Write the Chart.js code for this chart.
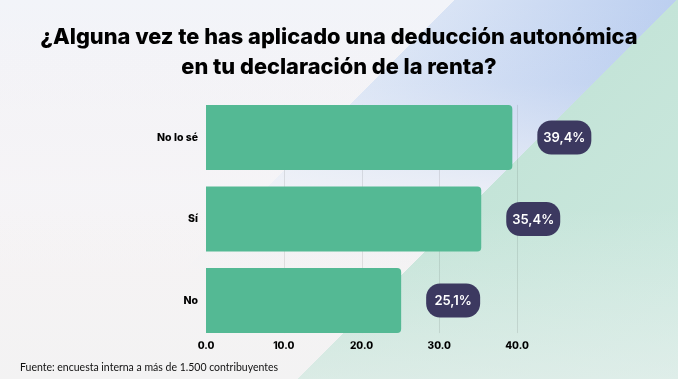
<!DOCTYPE html>
<html>
<head>
<meta charset="utf-8">
<script src="https://cdn.jsdelivr.net/npm/chart.js@4.4.1/dist/chart.umd.min.js"></script>
<style>
  html, body { margin: 0; padding: 0; }
  #wrap {
    position: relative; width: 678px; height: 379px; overflow: hidden;
    background:
      linear-gradient(to bottom, rgba(240,242,242,0) 0%, rgba(240,242,242,0) 55%, rgba(240,242,242,0.5) 100%),
      linear-gradient(135deg, rgba(0,0,0,0) 64%, #c4e4d8 64%, #cde9e0 100%),
      linear-gradient(to bottom, rgba(245,245,248,0) 0%, rgba(245,245,248,0.15) 22%, rgba(245,245,248,0.8) 50%, rgba(246,243,244,1) 72%),
      linear-gradient(135deg, rgba(0,0,0,0) 43%, #d8e3f5 43%, #bccff0 64%),
      linear-gradient(to bottom, #f2f4f9 0%, #f9efee 100%);
  }
  canvas { position: absolute; left: 0; top: 0; }
  #title {
    position: absolute; left: 0; top: 21px; width: 678px; text-align: center;
    font: 800 21.8px/30px Inter, sans-serif; color: #000;
  }
  #note {
    position: absolute; left: 20px; top: 361px;
    font: 400 10.5px Lato, sans-serif; color: #111;
  }
</style>
</head>
<body>
<div id="wrap">
  <canvas id="c" width="678" height="379"></canvas>
  <div id="title"></div>
  <div id="note">Fuente: encuesta interna a más de 1.500 contribuyentes</div>
</div>
<script>
const categories = ["No lo sé", "Sí", "No"];
const values = [39.4, 35.4, 25.1];
const xTicks = [0, 10, 20, 30, 40];
const titleLines = ["¿Alguna vez te has aplicado una deducción autonómica", "en tu declaración de la renta?"];

document.getElementById('title').innerHTML = titleLines.join('<br>');

const gridPlugin = {
  id: 'clippedGrid',
  beforeDatasetsDraw(chart) {
    const ctx = chart.ctx;
    const bars = chart.getDatasetMeta(0).data;
    const top = bars[0].y - bars[0].height / 2;
    const bottom = bars[bars.length - 1].y + bars[bars.length - 1].height / 2;
    const xs = chart.scales.x;
    ctx.save();
    ctx.strokeStyle = 'rgba(0,0,0,0.09)';
    ctx.lineWidth = 1;
    xTicks.slice(1).forEach(v => {
      const px = Math.round(xs.getPixelForValue(v)) + 0.5;
      ctx.beginPath();
      ctx.moveTo(px, top);
      ctx.lineTo(px, bottom);
      ctx.stroke();
    });
    ctx.restore();
  }
};

const badgePlugin = {
  id: 'badges',
  afterDatasetsDraw(chart) {
    const ctx = chart.ctx;
    chart.getDatasetMeta(0).data.forEach((bar, i) => {
      const w = 54, h = 34, r = 14;
      const x = bar.x + 25, y = bar.y - h / 2;
      ctx.save();
      ctx.fillStyle = '#3c3960';
      ctx.beginPath();
      ctx.roundRect(x, y, w, h, r);
      ctx.fill();
      ctx.fillStyle = '#ffffff';
      ctx.font = '600 13px Inter, sans-serif';
      ctx.textAlign = 'center';
      ctx.textBaseline = 'middle';
      ctx.fillText(values[i].toFixed(1).replace('.', ',') + '%', x + w / 2, bar.y + 1);
      ctx.restore();
    });
  }
};

new Chart(document.getElementById('c'), {
  type: 'bar',
  data: {
    labels: categories,
    datasets: [{
      data: values,
      backgroundColor: '#54b994',
      borderRadius: { topRight: 4, bottomRight: 4, topLeft: 0, bottomLeft: 0 },
      borderSkipped: 'start',
      barPercentage: 0.8,
      categoryPercentage: 1
    }]
  },
  options: {
    indexAxis: 'y',
    responsive: false,
    animation: false,
    layout: { padding: { left: 0, right: 161, top: 96.75, bottom: 17.75 } },
    plugins: {
      legend: { display: false },
      tooltip: { enabled: false },
      title: { display: false }
    },
    scales: {
      x: {
        min: 0, max: 40,
        afterBuildTicks(axis) { axis.ticks = xTicks.map(v => ({ value: v })); },
        afterFit(axis) { axis.height = 20; },
        grid: { display: false },
        border: { display: false },
        ticks: {
          padding: -9,
          color: '#000',
          font: { family: 'Inter', weight: '800', size: 10 },
          callback: v => Number(v).toFixed(1)
        }
      },
      y: {
        afterFit(axis) { axis.width = 206; },
        grid: { display: false },
        border: { display: false },
        ticks: {
          padding: 0,
          color: '#000',
          font: { family: 'Inter', weight: '800', size: 10.5 }
        }
      }
    }
  },
  plugins: [gridPlugin, badgePlugin]
});
</script>
</body>
</html>
